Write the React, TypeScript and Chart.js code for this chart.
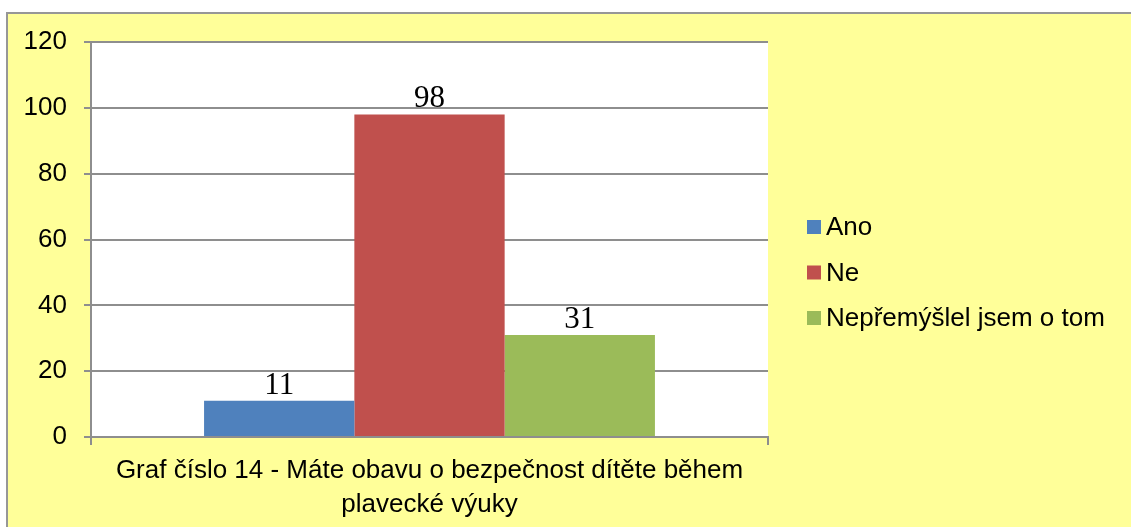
import { useEffect, useRef } from "react";
import { Chart, registerables } from "chart.js";

Chart.register(...registerables);

const categories = [["Graf číslo 14 - Máte obavu o bezpečnost dítěte během", "plavecké výuky"]];
const seriesNames = ["Ano", "Ne", "Nepřemýšlel jsem o tom"];
const seriesValues = [[11], [98], [31]];
const seriesColors = ["#4F81BD", "#C0504D", "#9BBB59"];
const yTicks = [0, 20, 40, 60, 80, 100, 120];

const SANS = '"Liberation Sans", Arial, sans-serif';
const SERIF = '"Liberation Serif", "Times New Roman", serif';
const GRID = "#8e8e8e";

const backgroundPlugin = {
  id: "bgPlugin",
  beforeDraw(chart: any) {
    const { ctx, width, height, chartArea } = chart;
    ctx.save();
    ctx.fillStyle = "#ffffff";
    ctx.fillRect(0, 0, width, height);
    ctx.fillStyle = "#FFFF99";
    ctx.fillRect(7, 12, width - 7, height - 12);
    ctx.strokeStyle = "#979797";
    ctx.lineWidth = 2;
    ctx.beginPath();
    ctx.moveTo(7, height + 2);
    ctx.lineTo(7, 13);
    ctx.lineTo(width + 2, 13);
    ctx.stroke();
    ctx.fillStyle = "#ffffff";
    ctx.fillRect(chartArea.left, chartArea.top, chartArea.right - chartArea.left, chartArea.bottom - chartArea.top);
    ctx.restore();
  },
};

const labelsPlugin = {
  id: "valueLabels",
  afterDatasetsDraw(chart: any) {
    const { ctx } = chart;
    ctx.save();
    ctx.font = `31px ${SERIF}`;
    ctx.fillStyle = "#000000";
    ctx.textAlign = "center";
    ctx.textBaseline = "alphabetic";
    chart.data.datasets.forEach((ds: any, i: number) => {
      const meta = chart.getDatasetMeta(i);
      meta.data.forEach((el: any, j: number) => {
        ctx.fillText(String(ds.data[j]), el.x, el.y - 7);
      });
    });
    ctx.restore();
  },
};

const legendPlugin = {
  id: "customLegend",
  afterDraw(chart: any) {
    const { ctx } = chart;
    ctx.save();
    ctx.font = `26px ${SANS}`;
    ctx.textAlign = "left";
    ctx.textBaseline = "middle";
    chart.data.datasets.forEach((ds: any, i: number) => {
      const yc = 227 + i * 45.5;
      ctx.fillStyle = ds.backgroundColor;
      ctx.fillRect(807, yc - 7, 14, 14);
      ctx.fillStyle = "#000000";
      ctx.fillText(ds.label, 826, yc + 1);
    });
    ctx.restore();
  },
};

export default function App() {
  const ref = useRef<HTMLCanvasElement | null>(null);

  useEffect(() => {
    document.body.style.margin = "0";
    if (!ref.current) return;
    const chart = new Chart(ref.current, {
      type: "bar",
      data: {
        labels: categories as any,
        datasets: seriesNames.map((name, i) => ({
          label: name,
          data: seriesValues[i],
          backgroundColor: seriesColors[i],
          borderWidth: 0,
          barPercentage: 1,
          categoryPercentage: 0.666,
        })),
      },
      options: {
        animation: false,
        responsive: false,
        events: [],
        layout: { padding: { left: 0, top: 42, right: 363, bottom: 0 } },
        plugins: {
          legend: { display: false },
          tooltip: { enabled: false },
          title: { display: false },
        },
        scales: {
          x: {
            offset: true,
            grid: {
              offset: true,
              drawOnChartArea: false,
              drawTicks: true,
              tickLength: 8,
              color: GRID,
              lineWidth: 2,
            },
            border: { display: true, color: GRID, width: 2 },
            ticks: {
              color: "#000000",
              font: { family: SANS, size: 26, lineHeight: 1.31 },
              padding: 9,
              maxRotation: 0,
              autoSkip: false,
            },
            afterFit(scale: any) {
              scale.height = 90;
            },
          },
          y: {
            min: 0,
            max: 120,
            grid: {
              color: GRID,
              lineWidth: 2,
              drawTicks: true,
              tickLength: 7,
            },
            border: { display: true, color: GRID, width: 2 },
            ticks: {
              color: "#000000",
              font: { family: SANS, size: 26 },
              padding: 17,
            },
            afterBuildTicks(scale: any) {
              scale.ticks = yTicks.map((v) => ({ value: v }));
            },
            afterFit(scale: any) {
              scale.width = 91;
            },
          },
        },
      },
      plugins: [backgroundPlugin, labelsPlugin, legendPlugin],
    });
    return () => chart.destroy();
  }, []);

  return (
    <div style={{ position: "absolute", left: 0, top: 0, width: 1131, height: 527 }}>
      <canvas ref={ref} width={1131} height={527} style={{ display: "block" }} />
    </div>
  );
}
